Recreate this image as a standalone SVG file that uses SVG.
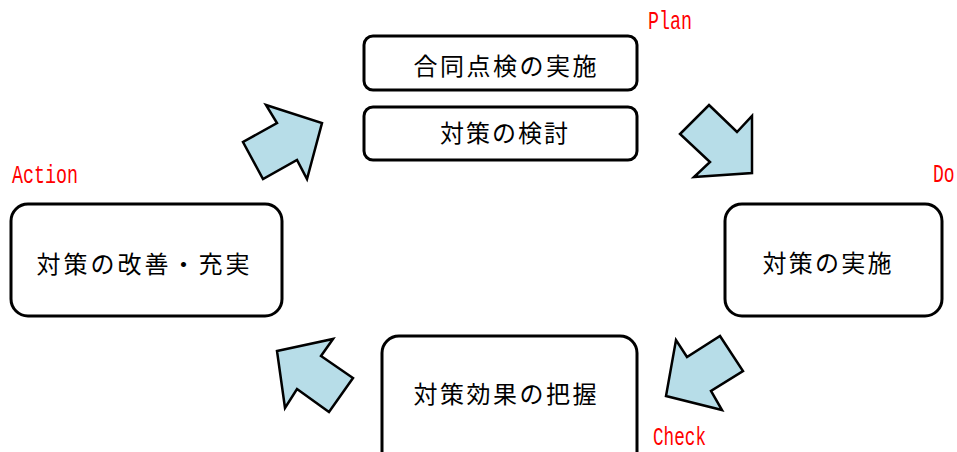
<svg xmlns="http://www.w3.org/2000/svg" width="957" height="452" viewBox="0 0 957 452">
<style>
.box{fill:#fff;stroke:#000;stroke-width:3}
.arr{fill:#b7dde8;stroke:#000;stroke-width:2.5;stroke-linejoin:miter}
.t{font-family:"Noto Sans CJK JP","Noto Sans CJK SC",sans-serif;font-size:24px;fill:#000;text-anchor:middle}
.lbl{font-family:"Liberation Mono","DejaVu Sans Mono",monospace;font-size:25px;fill:#f00}
</style>
<rect width="957" height="452" fill="#fff"/>
<g id="connectors">
<polygon class="arr" points="266,105 322,123 307,179 297,160 263,179 243,142 277,123"/>
<polygon class="arr" points="709,105 737,132 752,116 752,173 694,177 710,162 680,134"/>
<polygon class="arr" points="720,336 743,371 711,391 722,410 666,396 676,340 687,357"/>
<polygon class="arr" points="333,339 321,356 353,378 329,412 297,389 285,408 277,351"/>
</g>
<g id="plan1">
<rect class="box" x="364" y="36" width="273" height="54" rx="9"/>
<text class="t" x="505" y="75" textLength="183" lengthAdjust="spacing">合同点検の実施</text>
</g>
<g id="plan2">
<rect class="box" x="364" y="107" width="273" height="53" rx="9"/>
<text class="t" x="504" y="142" textLength="128" lengthAdjust="spacing">対策の検討</text>
</g>
<g id="do">
<rect class="box" x="725" y="204" width="217" height="112" rx="17"/>
<text class="t" x="827" y="272" textLength="129" lengthAdjust="spacing">対策の実施</text>
</g>
<g id="check">
<rect class="box" x="382" y="336" width="255" height="140" rx="17"/>
<text class="t" x="505" y="403" textLength="183" lengthAdjust="spacing">対策効果の把握</text>
</g>
<g id="action">
<rect class="box" x="11" y="204" width="271" height="112" rx="17"/>
<text class="t" x="143" y="273" textLength="213" lengthAdjust="spacing">対策の改善・充実</text>
</g>
<g id="labels">
<text class="lbl" x="648" y="29" textLength="44" lengthAdjust="spacingAndGlyphs">Plan</text>
<text class="lbl" x="12" y="183" textLength="66" lengthAdjust="spacingAndGlyphs">Action</text>
<text class="lbl" transform="translate(933,182) scale(1,1.38)" x="0" y="0" style="font-size:18px">Do</text>
<text class="lbl" x="653" y="445" textLength="53" lengthAdjust="spacingAndGlyphs">Check</text>
</g>
</svg>
